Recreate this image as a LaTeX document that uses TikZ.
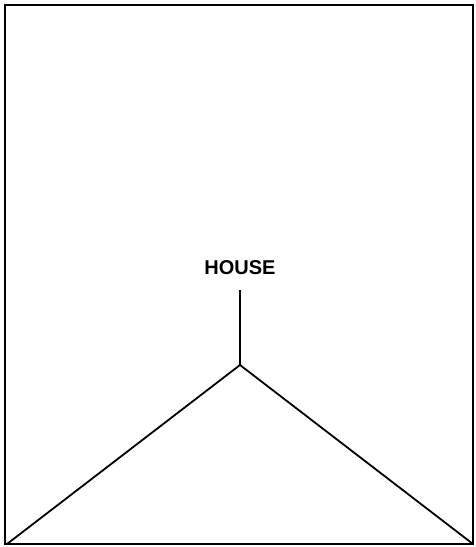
\documentclass[tikz,border=0pt]{standalone}
\usepackage{fontspec}
\setmainfont{Liberation Sans}
\begin{document}
\begin{tikzpicture}[x=1pt,y=-1pt,
  frame/.style={line width=2.4pt},
  edge/.style={line width=1.8pt},
  lbl/.style={font=\bfseries\fontsize{20}{22}\selectfont, inner sep=0pt}]
\useasboundingbox (0,0) rectangle (476,547);
\draw[frame] (5,5) rectangle (473,544);
\node[lbl] (house) at (240,268) {HOUSE};
\coordinate (top) at (240,290);
\coordinate (apex) at (240,365);
\coordinate (bl) at (7,544);
\coordinate (br) at (473,544);
\draw[edge] (top) -- (apex);
\draw[edge] (bl) -- (apex) -- (br);
\end{tikzpicture}
\end{document}
